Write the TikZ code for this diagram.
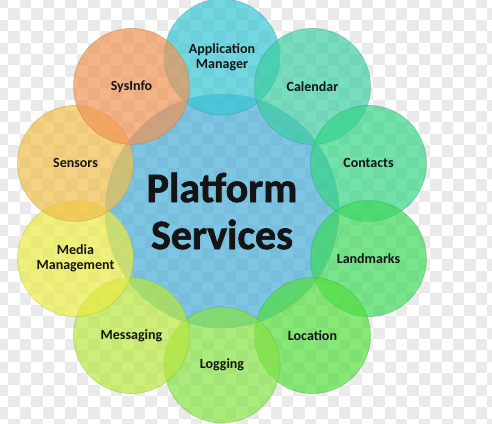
\documentclass[tikz,border=0pt]{standalone}
\usepackage{fontspec}
\setmainfont{Carlito}
\newfontfamily\titlefont[FakeBold=1.5]{Carlito Bold}
\definecolor{checkgrey}{RGB}{234,234,234}
\definecolor{cCenter}{RGB}{70,172,214}
\definecolor{cApp}{RGB}{55,198,212}
\definecolor{cCal}{RGB}{62,205,162}
\definecolor{cCon}{RGB}{55,212,134}
\definecolor{cLand}{RGB}{62,216,91}
\definecolor{cLoc}{RGB}{84,222,62}
\definecolor{cLog}{RGB}{134,226,69}
\definecolor{cMsg}{RGB}{184,231,62}
\definecolor{cMed}{RGB}{234,234,69}
\definecolor{cSen}{RGB}{241,191,76}
\definecolor{cSys}{RGB}{241,148,84}
\definecolor{txt}{RGB}{20,20,20}
\begin{document}
\begin{tikzpicture}[x=1pt,y=-1pt,
  ring/.style={circle,minimum size=116pt,inner sep=0pt,fill=#1,fill opacity=0.7,
    draw=#1!75!black,draw opacity=0.35,line width=0.8pt,text opacity=1,
    text=txt,font=\fontsize{14}{15}\selectfont\bfseries,align=center},
  hub/.style={circle,minimum size=234pt,inner sep=0pt,fill=cCenter,fill opacity=0.7,
    draw=cCenter!75!black,draw opacity=0.3,text opacity=1,text=txt,
    font=\titlefont\fontsize{42}{47}\selectfont,align=center}]
\useasboundingbox (0,0) rectangle (492,423);
\begin{scope}
\clip (0,0) rectangle (492,423);
\foreach \i in {0,...,43}{\foreach \j in {0,...,37}{%
  \pgfmathtruncatemacro\p{mod(\i+\j,2)}%
  \ifnum\p=0 \fill[checkgrey] (-3.1+11.4*\i,-3.1+11.4*\j) rectangle ++(11.4,11.4);\fi}}
\end{scope}
\node[hub] (hub) at (222,211) {Platform\\Services};
\node[ring=cApp] (app) at (222,57) {Application\\Manager};
\node[ring=cCal] (cal) at (312.5,86.4) {Calendar};
\node[ring=cCon] (con) at (368.5,163.4) {Contacts};
\node[ring=cLand] (land) at (368.5,258.6) {Landmarks};
\node[ring=cLoc] (loc) at (312.5,335.6) {Location};
\node[ring=cLog] (log) at (222,365) {Logging};
\node[ring=cMsg] (msg) at (131.5,335.6) {Messaging};
\node[ring=cMed] (med) at (75.5,258.6) {Media\\Management};
\node[ring=cSen] (sen) at (75.5,163.4) {Sensors};
\node[ring=cSys] (sys) at (131.5,86.4) {SysInfo};
\end{tikzpicture}
\end{document}
